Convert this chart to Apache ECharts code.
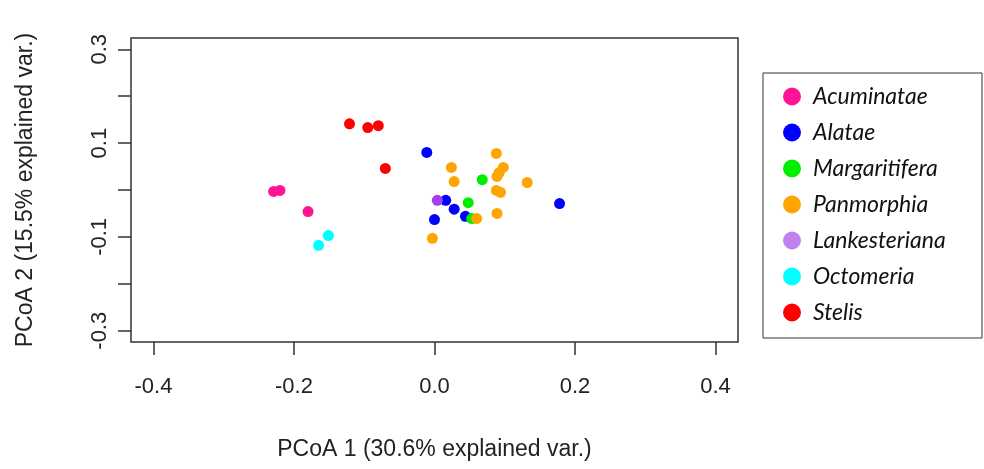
<!DOCTYPE html>
<html>
<head>
<meta charset="utf-8">
<script src="https://cdn.jsdelivr.net/npm/echarts@6/dist/echarts.min.js"></script>
<style>html,body{margin:0;padding:0;background:#fff}#c{width:984px;height:469px}</style>
</head>
<body>
<div id="c"></div>
<script>
const groups = ['Acuminatae','Alatae','Margaritifera','Panmorphia','Lankesteriana','Octomeria','Stelis'];
const acuminatae = [[-0.229,-0.003],[-0.220,-0.001],[-0.180,-0.046]];
const alatae = [[-0.011,0.080],[0.016,-0.022],[0.028,-0.041],[0.178,-0.029],[0.000,-0.063],[0.044,-0.056]];
const margaritifera = [[0.068,0.022],[0.048,-0.027],[0.053,-0.061]];
const panmorphia = [[0.088,0.078],[0.024,0.048],[0.098,0.048],[0.092,0.037],[0.089,0.029],[0.028,0.018],[0.132,0.016],[0.088,-0.001],[0.094,-0.005],[0.060,-0.061],[0.089,-0.050],[-0.003,-0.103]];
const lankesteriana = [[0.004,-0.022]];
const octomeria = [[-0.165,-0.118],[-0.151,-0.097]];
const stelis = [[-0.121,0.141],[-0.095,0.133],[-0.080,0.137],[-0.070,0.046]];
const xTickValues = [-0.4,-0.2,0.0,0.2,0.4];
const yTickValues = [-0.3,-0.2,-0.1,0.0,0.1,0.2,0.3];
const yLabelValues = [-0.3,-0.1,0.1,0.3];

const seriesData = [acuminatae, alatae, margaritifera, panmorphia, lankesteriana, octomeria, stelis];
const colors = ['#FF1493','#0000FF','#00EE00','#FFA500','#A040F0','#00FFFF','#FF0000'];
const legendColors = ['#FF1493','#0000FF','#00EE00','#FFA500','#C080F0','#00FFFF','#FF0000'];

const chart = echarts.init(document.getElementById('c'));
const axisFont = {fontFamily:'Liberation Sans, Arial, sans-serif', fontSize:22, color:'#222'};
chart.setOption({
  animation:false,
  grid:{left:131, top:38, right:246, bottom:127, show:true, borderColor:'#333', borderWidth:1.5, backgroundColor:'transparent'},
  xAxis:{
    type:'value', min:-0.432, max:0.432,
    name:'PCoA 1 (30.6% explained var.)', nameLocation:'middle', nameGap:96,
    nameTextStyle:{fontFamily:'Liberation Sans, Arial, sans-serif', fontSize:23, color:'#222'},
    axisLine:{show:false, onZero:false}, splitLine:{show:false},
    axisTick:{show:true, length:13, lineStyle:{color:'#333', width:1.5}, customValues:xTickValues},
    axisLabel:Object.assign({margin:34, customValues:xTickValues, formatter:v=>Number(v).toFixed(1)}, axisFont)
  },
  yAxis:{
    type:'value', min:-0.324, max:0.324,
    name:'PCoA 2 (15.5% explained var.)', nameLocation:'middle', nameGap:94, nameRotate:90,
    nameTextStyle:{fontFamily:'Liberation Sans, Arial, sans-serif', fontSize:23, color:'#222'},
    axisLine:{show:false, onZero:false}, splitLine:{show:false},
    axisTick:{show:true, length:13, lineStyle:{color:'#333', width:1.5}, customValues:yTickValues},
    axisLabel:Object.assign({margin:20, rotate:90, customValues:yLabelValues, formatter:v=>Number(v).toFixed(1)}, axisFont)
  },
  legend:{
    orient:'vertical', left:783, top:85, padding:0, itemGap:13,
    itemWidth:18, itemHeight:18, icon:'circle',
    textStyle:{fontFamily:'Lato, Open Sans, sans-serif', fontStyle:'italic', fontSize:23, color:'#111', padding:[0,0,0,7]},
    data:groups.map((g,i)=>({name:g, itemStyle:{color:legendColors[i]}}))
  },
  graphic:[{type:'rect', shape:{x:763, y:73, width:219, height:265}, style:{fill:'none', stroke:'#333', lineWidth:1}, silent:true}],
  series:groups.map((g,i)=>({
    name:g, type:'scatter', data:seriesData[i], symbolSize:11,
    itemStyle:{color:colors[i], opacity:1}
  }))
});
</script>
</body>
</html>
